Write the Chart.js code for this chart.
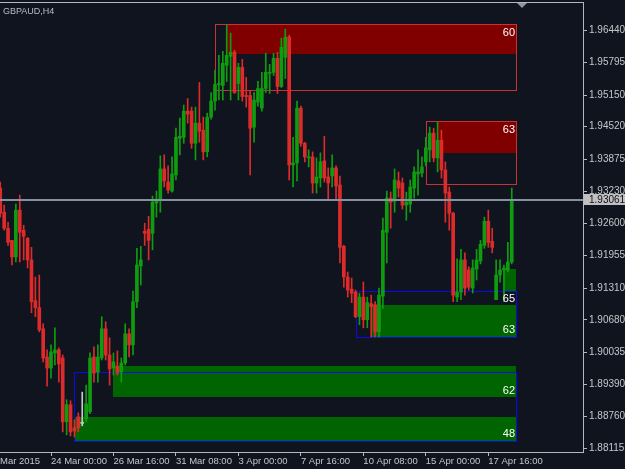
<!DOCTYPE html>
<html><head><meta charset="utf-8">
<script src="https://cdn.jsdelivr.net/npm/chart.js@4.4.1/dist/chart.umd.min.js"></script>
<style>html,body{margin:0;padding:0;background:#0f141e;overflow:hidden}canvas{display:block}</style>
</head><body>
<canvas id="c" width="625" height="469"></canvas>
<script>
// ---- data (H4 bars, bar 13 = 24 Mar 2015 00:00) ----
const symbolTitle = 'GBPAUD,H4';
const open = [
1.9330,1.9282,1.9250,1.9226,1.9193,1.9286,1.9246,1.9230,1.9187,1.9106,
1.9092,1.9050,1.8994,1.8972,1.9002,1.9008,1.8992,1.8865,1.8899,1.8853,
1.8875,1.8862,1.8871,1.8885,1.8994,1.8964,1.8992,1.9050,1.8998,1.8972,
1.8976,1.8964,1.8982,1.9040,1.9018,1.9104,1.9175,1.9244,1.9248,1.9240,
1.9300,1.9306,1.9368,1.9342,1.9324,1.9356,1.9429,1.9431,1.9483,1.9483,
1.9419,1.9459,1.9445,1.9402,1.9471,1.9503,1.9536,1.9534,1.9574,1.9592,
1.9600,1.9538,1.9570,1.9514,1.9514,1.9451,1.9501,1.9489,1.9528,1.9558,
1.9560,1.9588,1.9532,1.9590,1.9630,1.9376,1.9380,1.9489,1.9419,1.9390,
1.9392,1.9340,1.9350,1.9384,1.9352,1.9354,1.9370,1.9336,1.9214,1.9153,
1.9129,1.9123,1.9074,1.9113,1.9068,1.9100,1.9098,1.9044,1.9115,1.9242,
1.9310,1.9304,1.9344,1.9340,1.9296,1.9298,1.9330,1.9358,1.9360,1.9382,
1.9406,1.9439,1.9390,1.9425,1.9366,1.9322,1.9280,1.9113,1.9123,1.9187,
1.9167,1.9131,1.9169,1.9185,1.9216,1.9264,1.9224,1.9108,1.9157,1.9167,
1.9167,1.9183];
const high = [
1.9342,1.9296,1.9262,1.9226,1.9298,1.9316,1.9256,1.9232,1.9212,1.9153,
1.9157,1.9060,1.9008,1.9018,1.9052,1.9012,1.8998,1.8909,1.8907,1.8869,
1.8883,1.8924,1.8938,1.9002,1.9014,1.9018,1.9074,1.9064,1.9032,1.9002,
1.9006,1.8992,1.9060,1.9050,1.9125,1.9210,1.9214,1.9260,1.9274,1.9314,
1.9324,1.9394,1.9396,1.9374,1.9392,1.9449,1.9469,1.9495,1.9508,1.9491,
1.9491,1.9540,1.9471,1.9479,1.9520,1.9564,1.9594,1.9602,1.9654,1.9638,
1.9604,1.9578,1.9586,1.9550,1.9524,1.9520,1.9542,1.9560,1.9598,1.9576,
1.9598,1.9600,1.9628,1.9646,1.9634,1.9431,1.9503,1.9493,1.9421,1.9406,
1.9402,1.9390,1.9400,1.9433,1.9370,1.9396,1.9374,1.9354,1.9216,1.9163,
1.9151,1.9127,1.9121,1.9143,1.9113,1.9117,1.9104,1.9131,1.9270,1.9324,
1.9322,1.9368,1.9362,1.9350,1.9322,1.9346,1.9372,1.9406,1.9392,1.9431,
1.9451,1.9449,1.9461,1.9445,1.9382,1.9332,1.9282,1.9189,1.9208,1.9201,
1.9173,1.9187,1.9208,1.9226,1.9272,1.9286,1.9250,1.9187,1.9187,1.9177,
1.9222,1.9330];
const low = [
1.9272,1.9246,1.9216,1.9177,1.9183,1.9183,1.9187,1.9171,1.9082,1.9074,
1.9044,1.8984,1.8936,1.8952,1.8978,1.8944,1.8845,1.8839,1.8837,1.8835,
1.8845,1.8857,1.8865,1.8881,1.8944,1.8944,1.8988,1.8988,1.8938,1.8958,
1.8958,1.8944,1.8978,1.8994,1.8998,1.9092,1.9137,1.9216,1.9187,1.9207,
1.9272,1.9282,1.9332,1.9320,1.9322,1.9346,1.9396,1.9419,1.9459,1.9409,
1.9386,1.9421,1.9386,1.9392,1.9467,1.9485,1.9505,1.9505,1.9542,1.9505,
1.9518,1.9505,1.9503,1.9491,1.9356,1.9421,1.9493,1.9483,1.9520,1.9518,
1.9554,1.9518,1.9530,1.9548,1.9346,1.9332,1.9344,1.9413,1.9382,1.9372,
1.9320,1.9320,1.9332,1.9342,1.9306,1.9332,1.9306,1.9181,1.9133,1.9113,
1.9102,1.9072,1.9058,1.9052,1.9052,1.9034,1.9034,1.9034,1.9090,1.9181,
1.9250,1.9282,1.9312,1.9288,1.9266,1.9282,1.9310,1.9316,1.9352,1.9374,
1.9382,1.9382,1.9362,1.9350,1.9262,1.9246,1.9104,1.9104,1.9108,1.9117,
1.9127,1.9121,1.9147,1.9179,1.9210,1.9212,1.9201,1.9108,1.9143,1.9104,
1.9163,1.9179];
const close = [
1.9280,1.9250,1.9222,1.9193,1.9286,1.9242,1.9234,1.9187,1.9104,1.9092,
1.9048,1.8992,1.8972,1.9004,1.9008,1.8980,1.8865,1.8899,1.8845,1.8847,
1.8853,1.8862,1.8901,1.8992,1.8962,1.8994,1.9050,1.8998,1.8970,1.8984,
1.8962,1.8982,1.9040,1.9018,1.9104,1.9177,1.9187,1.9240,1.9226,1.9302,
1.9308,1.9368,1.9344,1.9326,1.9358,1.9431,1.9433,1.9483,1.9477,1.9419,
1.9459,1.9443,1.9402,1.9471,1.9503,1.9536,1.9538,1.9578,1.9594,1.9600,
1.9520,1.9570,1.9512,1.9512,1.9449,1.9505,1.9528,1.9528,1.9560,1.9560,
1.9588,1.9532,1.9610,1.9630,1.9376,1.9380,1.9489,1.9419,1.9392,1.9392,
1.9340,1.9352,1.9382,1.9350,1.9340,1.9370,1.9334,1.9212,1.9153,1.9127,
1.9121,1.9074,1.9113,1.9068,1.9102,1.9094,1.9044,1.9117,1.9246,1.9310,
1.9302,1.9346,1.9330,1.9296,1.9302,1.9332,1.9362,1.9362,1.9372,1.9410,
1.9439,1.9390,1.9425,1.9366,1.9320,1.9280,1.9117,1.9123,1.9187,1.9131,
1.9133,1.9171,1.9187,1.9218,1.9264,1.9222,1.9212,1.9157,1.9167,1.9171,
1.9183,1.93061];

const currentPrice = 1.93061;
const yTickValues = [1.96440,1.95795,1.95150,1.94520,1.93875,1.93230,1.92600,1.91955,1.91310,1.90680,1.90035,1.89390,1.88760,1.88115];
const firstTimeLabel = 'Mar 2015';
const timeTickBars = [13,29,45,61,77,93,109,125];
const timeTickLabels = ['24 Mar 00:00','26 Mar 16:00','31 Mar 08:00','3 Apr 00:00','7 Apr 16:00','10 Apr 08:00','15 Apr 00:00','17 Apr 16:00'];

// supply / demand zones (bar numbers and prices)
const fillFromBar = [58.1, 112.1, 95.2, 129, 28.9, 18.9];
const fillToBar   = [132.1, 132.1, 132.1, 132.1, 132.1, 132.1];
const fillHigh    = [1.9654, 1.9461, 1.9098, 1.9169, 1.8976, 1.8875];
const fillLow     = [1.9596, 1.9400, 1.9034, 1.9125, 1.8914, 1.8827];
const fillKind    = ['supply','supply','demand','demand','demand','demand'];

const boxFromBar = [55, 109, 91.1, 18.9];
const boxToBar   = [132.1, 132.1, 132.1, 132.1];
const boxHigh    = [1.9656, 1.9463, 1.9125, 1.8964];
const boxLow     = [1.9524, 1.9338, 1.9034, 1.8827];
const boxKind    = ['supply','supply','demand','demand'];

const scoreText  = ['60','63','65','63','62','48'];
const scorePrice = [1.9654, 1.9461, 1.9125, 1.9034, 1.8914, 1.8827];
const scoreSide  = ['top','top','top','bottom','bottom','bottom'];

// ---- styling ----
const BG = '#0f141e';
const BULL = '#0f9d0f', BEAR = '#dd2b2b', DOJI = '#c8c8c8';
const AXIS = '#b4b8bc', TXT = '#c4c8cc';
const NARROW = '"Liberation Sans Narrow", "Liberation Sans", Arial, sans-serif';
const SANS = '"Liberation Sans", Arial, sans-serif';

const barIdx = open.map((_, k) => k);
const colorOf = k => close[k] > open[k] ? BULL : (close[k] < open[k] ? BEAR : DOJI);

const bgPlugin = {
  id: 'bg',
  beforeDraw(chart) {
    const c = chart.ctx; c.save(); c.fillStyle = BG; c.fillRect(0, 0, chart.width, chart.height); c.restore();
  }
};

const zonePlugin = {
  id: 'zones',
  beforeDatasetsDraw(chart) {
    const {ctx, chartArea: a} = chart; const xs = chart.scales.x, ys = chart.scales.y;
    ctx.save();
    ctx.beginPath(); ctx.rect(a.left, a.top, a.right - a.left, a.bottom - a.top); ctx.clip();
    for (let j = 0; j < fillFromBar.length; j++) {
      const x0 = Math.round(xs.getPixelForValue(fillFromBar[j])), x1 = Math.round(xs.getPixelForValue(fillToBar[j]));
      const y0 = Math.round(ys.getPixelForValue(fillHigh[j])), y1 = Math.round(ys.getPixelForValue(fillLow[j]));
      ctx.fillStyle = fillKind[j] === 'supply' ? '#800000' : '#006400';
      ctx.fillRect(x0, y0, x1 - x0, y1 - y0);
    }
    ctx.lineWidth = 1;
    for (let j = 0; j < boxFromBar.length; j++) {
      const x0 = Math.round(xs.getPixelForValue(boxFromBar[j])), x1 = Math.round(xs.getPixelForValue(boxToBar[j]));
      const y0 = Math.round(ys.getPixelForValue(boxHigh[j])), y1 = Math.round(ys.getPixelForValue(boxLow[j]));
      ctx.strokeStyle = boxKind[j] === 'supply' ? '#c83232' : '#0a0aee';
      ctx.strokeRect(x0 + 0.5, y0 + 0.5, x1 - x0, y1 - y0);
    }
    ctx.restore();
  },
  afterDatasetsDraw(chart) {
    const {ctx, chartArea: a} = chart; const xs = chart.scales.x, ys = chart.scales.y;
    ctx.save();
    // current price line
    const py = ys.getPixelForValue(currentPrice);
    ctx.fillStyle = '#8590a0';
    ctx.fillRect(a.left, Math.round(py) - 1, a.right - a.left, 2);
    // zone scores
    ctx.font = '11px ' + SANS; ctx.fillStyle = '#ffffff'; ctx.textAlign = 'right';
    for (let j = 0; j < scoreText.length; j++) {
      const xr = xs.getPixelForValue(fillToBar[0]) - 1;
      const yy = ys.getPixelForValue(scorePrice[j]);
      if (scoreSide[j] === 'top') { ctx.textBaseline = 'top'; ctx.fillText(scoreText[j], xr, yy + 2); }
      else { ctx.textBaseline = 'bottom'; ctx.fillText(scoreText[j], xr, yy - 1); }
    }
    // title
    ctx.textAlign = 'left'; ctx.textBaseline = 'alphabetic';
    ctx.font = '9px ' + SANS; ctx.fillStyle = '#b8bec6';
    ctx.fillText(symbolTitle, 3, 14);
    // top frame + shift marker
    ctx.fillStyle = AXIS;
    ctx.fillRect(0, a.top, a.right, 1);
    ctx.fillStyle = '#8a96a0';
    ctx.beginPath(); ctx.moveTo(517, a.top + 1); ctx.lineTo(527, a.top + 1); ctx.lineTo(522, a.top + 6); ctx.closePath(); ctx.fill();
    ctx.restore();
  },
  afterDraw(chart) {
    const {ctx, chartArea: a} = chart; const ys = chart.scales.y;
    const py = ys.getPixelForValue(currentPrice);
    ctx.save();
    ctx.fillStyle = '#c0c0c0';
    ctx.fillRect(a.right + 1, Math.round(py) - 6, chart.width - a.right - 1, 11);
    ctx.fillStyle = '#0c1018'; ctx.font = '10px ' + NARROW; ctx.textAlign = 'left'; ctx.textBaseline = 'middle';
    ctx.fillText(currentPrice.toFixed(5), a.right + 6, Math.round(py));
    ctx.restore();
  }
};

new Chart(document.getElementById('c'), {
  type: 'bar',
  data: {
    datasets: [
      { label: 'wick', data: barIdx.map(k => ({x: k, y: [low[k], high[k]]})),
        backgroundColor: barIdx.map(colorOf), barThickness: 1, grouped: false, borderWidth: 0, order: 2 },
      { label: 'body', data: barIdx.map(k => ({x: k, y: [open[k], close[k]]})),
        backgroundColor: barIdx.map(colorOf), barThickness: 3, minBarLength: 1, grouped: false, borderWidth: 0, order: 1 }
    ]
  },
  options: {
    responsive: false, animation: false, devicePixelRatio: 1,
    layout: { padding: { top: 2, left: 0, right: 0, bottom: 0 } },
    plugins: { legend: { display: false }, tooltip: { enabled: false }, title: { display: false } },
    scales: {
      x: {
        type: 'linear', position: 'bottom', offset: false, min: -0.062, max: 149.25,
        grid: { display: true, drawOnChartArea: false, drawTicks: true, tickLength: 4, offset: false,
                tickColor: c => c.index === 0 ? 'rgba(0,0,0,0)' : AXIS },
        border: { display: true, color: AXIS, width: 1 },
        ticks: { color: TXT, font: { family: NARROW, size: 9.5 }, align: 'start', maxRotation: 0, autoSkip: false, padding: 0,
                 callback: (v, i) => i === 0 ? firstTimeLabel : timeTickLabels[i - 1] },
        afterBuildTicks: s => { s.ticks = [{value: s.min}].concat(timeTickBars.map(v => ({value: v}))); },
        afterFit: s => { s.height = 17; s.paddingLeft = 0; s.paddingRight = 0; s.paddingTop = 0; s.paddingBottom = 0; }
      },
      y: {
        type: 'linear', position: 'right', min: 1.8805, max: 1.9700, beginAtZero: false,
        grid: { display: true, drawOnChartArea: false, drawTicks: true, tickLength: 4, tickColor: AXIS },
        border: { display: true, color: AXIS, width: 1 },
        ticks: { color: TXT, font: { family: NARROW, size: 10 }, padding: 2, callback: v => Number(v).toFixed(5) },
        afterBuildTicks: s => { s.ticks = yTickValues.map(v => ({value: v})); },
        afterFit: s => { s.width = 42; s.paddingTop = 0; s.paddingBottom = 0; s.paddingLeft = 0; s.paddingRight = 0; }
      }
    }
  },
  plugins: [bgPlugin, zonePlugin]
});
</script>
</body></html>
